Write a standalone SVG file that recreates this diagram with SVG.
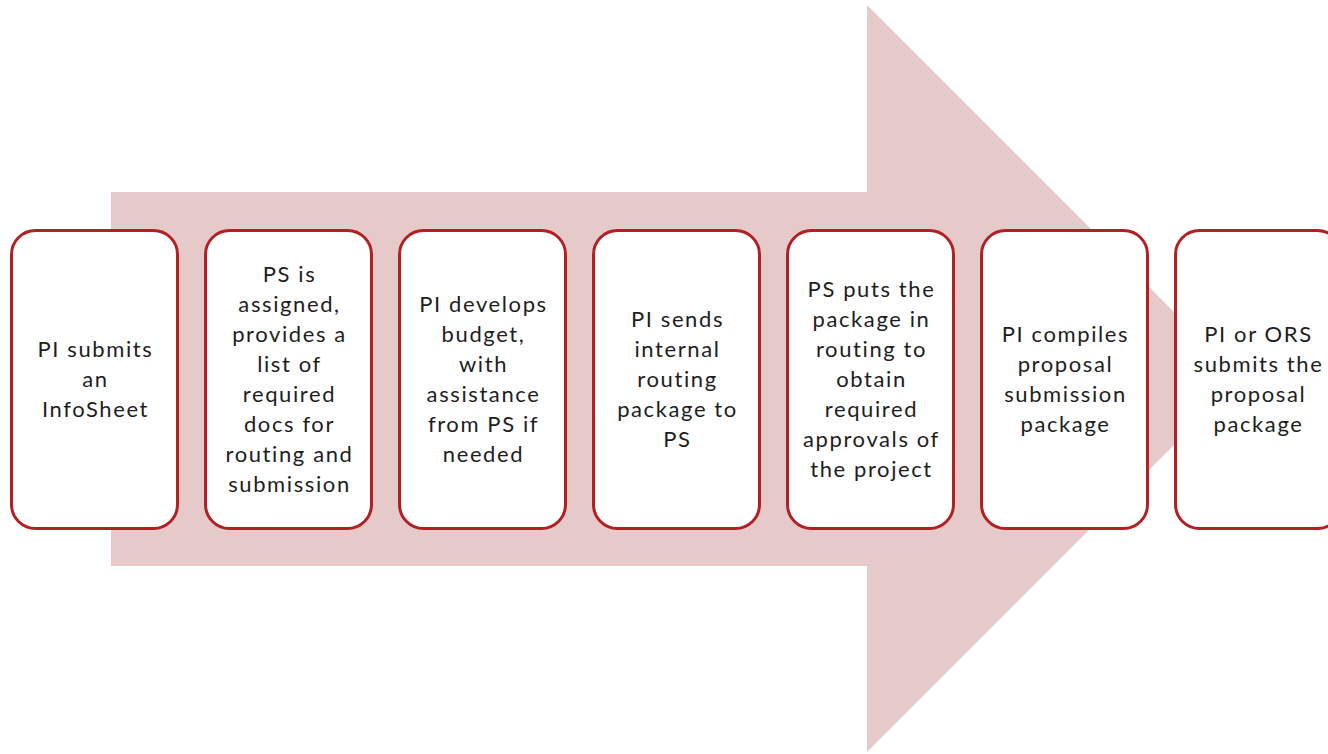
<svg xmlns="http://www.w3.org/2000/svg" width="1328" height="754" viewBox="0 0 1328 754">
<style>
.box{fill:#ffffff;stroke:#B22024;stroke-width:3}
.t{font-family:Lato,"Open Sans","Liberation Sans",sans-serif;font-size:22px;letter-spacing:1.6px;fill:#1e1e1e;text-anchor:middle}
</style>
<rect width="1328" height="754" fill="#ffffff"/>
<g id="arrow">
<polygon points="111,192 867,192 867,5 1240.5,378.5 867,752 867,566 111,566" fill="#E6CACA"/>
</g>
<g id="connectors"></g>
<g id="n1">
<rect class="box" x="11.5" y="230.5" width="166" height="298" rx="24"/>
<text class="t"><tspan x="95.5" y="356.5">PI submits</tspan><tspan x="95.5" y="386.5">an</tspan><tspan x="95.5" y="416.5">InfoSheet</tspan></text>
</g>
<g id="n2">
<rect class="box" x="205.5" y="230.5" width="166" height="298" rx="24"/>
<text class="t"><tspan x="289.5" y="281.5">PS is</tspan><tspan x="289.5" y="311.5">assigned,</tspan><tspan x="289.5" y="341.5">provides a</tspan><tspan x="289.5" y="371.5">list of</tspan><tspan x="289.5" y="401.5">required</tspan><tspan x="289.5" y="431.5">docs for</tspan><tspan x="289.5" y="461.5">routing and</tspan><tspan x="289.5" y="491.5">submission</tspan></text>
</g>
<g id="n3">
<rect class="box" x="399.5" y="230.5" width="166" height="298" rx="24"/>
<text class="t"><tspan x="483.5" y="311.5">PI develops</tspan><tspan x="483.5" y="341.5">budget,</tspan><tspan x="483.5" y="371.5">with</tspan><tspan x="483.5" y="401.5">assistance</tspan><tspan x="483.5" y="431.5">from PS if</tspan><tspan x="483.5" y="461.5">needed</tspan></text>
</g>
<g id="n4">
<rect class="box" x="593.5" y="230.5" width="166" height="298" rx="24"/>
<text class="t"><tspan x="677.5" y="326.5">PI sends</tspan><tspan x="677.5" y="356.5">internal</tspan><tspan x="677.5" y="386.5">routing</tspan><tspan x="677.5" y="416.5">package to</tspan><tspan x="677.5" y="446.5">PS</tspan></text>
</g>
<g id="n5">
<rect class="box" x="787.5" y="230.5" width="166" height="298" rx="24"/>
<text class="t"><tspan x="871.5" y="296.5">PS puts the</tspan><tspan x="871.5" y="326.5">package in</tspan><tspan x="871.5" y="356.5">routing to</tspan><tspan x="871.5" y="386.5">obtain</tspan><tspan x="871.5" y="416.5">required</tspan><tspan x="871.5" y="446.5">approvals of</tspan><tspan x="871.5" y="476.5">the project</tspan></text>
</g>
<g id="n6">
<rect class="box" x="981.5" y="230.5" width="166" height="298" rx="24"/>
<text class="t"><tspan x="1065.5" y="341.5">PI compiles</tspan><tspan x="1065.5" y="371.5">proposal</tspan><tspan x="1065.5" y="401.5">submission</tspan><tspan x="1065.5" y="431.5">package</tspan></text>
</g>
<g id="n7">
<rect class="box" x="1175.5" y="230.5" width="166" height="298" rx="24"/>
<text class="t"><tspan x="1258.5" y="341.5">PI or ORS</tspan><tspan x="1258.5" y="371.5">submits the</tspan><tspan x="1258.5" y="401.5">proposal</tspan><tspan x="1258.5" y="431.5">package</tspan></text>
</g>
</svg>
